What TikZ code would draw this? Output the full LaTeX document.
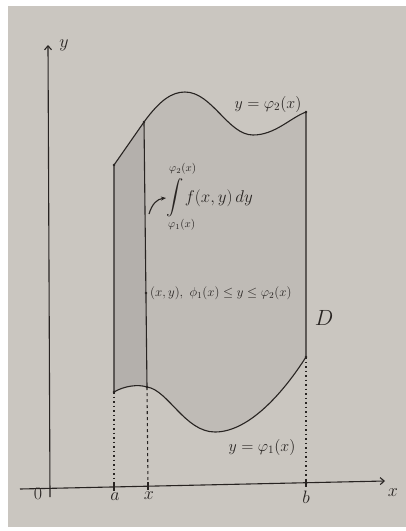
\RequirePackage{fix-cm}
\documentclass[tikz,border=0pt]{standalone}
\usepackage{amsmath}
\usepackage{exscale}
\usetikzlibrary{arrows.meta}
\definecolor{paper}{RGB}{202,198,192}
\definecolor{regionfill}{RGB}{191,187,182}
\definecolor{stripfill}{RGB}{180,176,172}
\definecolor{ink}{RGB}{40,36,34}
\tikzset{
  axis/.style={draw=ink, line width=1.1pt, -{Straight Barb[length=4pt,width=7pt]}},
  bound/.style={draw=ink, line width=1.1pt},
  guide/.style={draw=ink, line width=1.1pt, dash pattern=on 3pt off 3pt},
  dotguide/.style={draw=ink, line width=1.2pt, dash pattern=on 1.5pt off 3pt},
  lbl/.style={text=ink, inner sep=1pt, font=\fontsize{18}{21}\selectfont},
  curvelbl/.style={text=ink, inner sep=1pt, font=\fontsize{16}{19}\selectfont},
  pt/.style={circle, fill=ink, inner sep=0pt, minimum size=2.8pt}
}
\begin{document}
\begin{tikzpicture}[x=1pt,y=-1pt]
\useasboundingbox (0,0) rectangle (406,531);
\fill[white] (0,0) rectangle (406,531);
\fill[paper] (8,6) rectangle (406,527);
% key points
\coordinate (A2) at (114,165);
\coordinate (X2) at (144,122);
\coordinate (B2) at (306,112);
\coordinate (A1) at (114,392);
\coordinate (X1) at (147,387);
\coordinate (B1) at (306,357);
\coordinate (Aax) at (114,487);
\coordinate (Xax) at (148,486);
\coordinate (Bax) at (306,483);
% shaded region
\fill[regionfill] (A2) -- (X2) .. controls (160,100) and (172,92) .. (185,92)
  .. controls (212,92) and (228,135) .. (253,135)
  .. controls (275,135) and (290,118) .. (B2) -- (B1)
  .. controls (285,390) and (250,432) .. (215,432)
  .. controls (185,432) and (168,390) .. (X1)
  .. controls (138,384) and (124,386) .. (A1) -- cycle;
\fill[stripfill] (A2) -- (X2) -- (X1) .. controls (138,384) and (124,386) .. (A1) -- cycle;
% boundaries
\draw[bound] (A2) -- (X2) .. controls (160,100) and (172,92) .. (185,92)
  .. controls (212,92) and (228,135) .. (253,135)
  .. controls (275,135) and (290,118) .. (B2) -- (B1)
  .. controls (285,390) and (250,432) .. (215,432)
  .. controls (185,432) and (168,390) .. (X1)
  .. controls (138,384) and (124,386) .. (A1) -- cycle;
\draw[bound] (X2) -- (X1);
% axes
\coordinate (xs) at (20,489);
\coordinate (xe) at (385,481);
\coordinate (ys) at (50,497);
\coordinate (ye) at (48,45);
\draw[axis] (xs) -- (xe);
\draw[axis] (ys) -- (ye);
% guides
\draw[dotguide] (A1) -- (Aax);
\draw[guide] (X1) -- (Xax);
\draw[dotguide] (B1) -- (Bax);
% ticks
\draw[bound] (114,483) -- (114,491);
\draw[bound] (148,482) -- (148,490);
\draw[bound] (306,479) -- (306,487);
% points
\node[pt] (pA2) at (A2) {};
\node[pt] (pX2) at (X2) {};
\node[pt] (pB2) at (B2) {};
\node[pt] (pA1) at (A1) {};
\node[pt] (pX1) at (X1) {};
\node[pt] (pB1) at (B1) {};
\node[pt] (pm) at (146,293) {};
% labels
\node[lbl] (ly) at (64,45) {$y$};
\node[lbl] (lx) at (393,493) {$x$};
\node[lbl] (l0) at (38,494) {$0$};
\node[lbl] (la) at (115,497) {$a$};
\node[lbl] (lxx) at (149,496) {$x$};
\node[lbl] (lb) at (306,497) {$b$};
\node[curvelbl] (lphi2) at (268,104) {$y=\varphi_2(x)$};
\node[curvelbl] (lphi1) at (262,447) {$y=\varphi_1(x)$};
\node[lbl, font=\fontsize{22}{26}\selectfont] (lD) at (324,318) {$D$};
\node[lbl, anchor=west, font=\fontsize{13}{16}\selectfont] (lpt) at (149,293) {$(x,y),\ \phi_1(x)\le y\le \varphi_2(x)$};
% integral
\node[lbl, anchor=west, font=\fontsize{17}{20}\selectfont, inner sep=0pt] (lint) at (166,198) {$\displaystyle\int$};
\node[lbl, anchor=west, font=\fontsize{17}{20}\selectfont] (lf) at (lint.east) {$f(x,y)\,dy$};
\node[lbl, anchor=south west, font=\fontsize{11}{13}\selectfont, inner sep=0pt] (lup) at ([xshift=3pt,yshift=4pt]lint.north west) {$\varphi_2(x)$};
\node[lbl, anchor=north west, font=\fontsize{11}{13}\selectfont, inner sep=0pt] (llo) at ([xshift=2pt,yshift=-2pt]lint.south west) {$\varphi_1(x)$};
\coordinate (arrs) at (149,214);
\draw[bound, -{Stealth[length=5pt,width=4pt]}] (arrs) .. controls (152,204) and (157,199) .. (lint.west);
\end{tikzpicture}
\end{document}
